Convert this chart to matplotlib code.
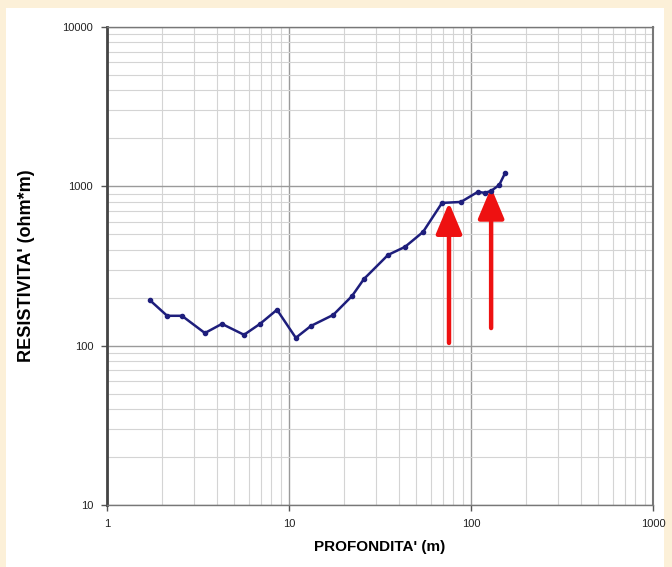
import matplotlib.pyplot as plt
from matplotlib.patches import Rectangle
from matplotlib.ticker import LogLocator, FixedLocator, NullFormatter

# dati del sondaggio (profondita' in m, resistivita' in ohm*m)
profondita = [1.72, 2.14, 2.58, 3.45, 4.28, 5.66, 6.93, 8.59, 10.9, 13.2, 17.5,
              22.2, 25.8, 35.0, 43.4, 54.5, 69.3, 88.1, 109, 119, 129, 143, 154]
resistivita = [193, 154, 154, 120, 137, 117, 137, 168, 112, 133, 156,
               205, 262, 371, 417, 517, 787, 798, 923, 910, 936, 1021, 1213]

# frecce rosse: x, y base, y punta
frecce_x = [75.7, 129]
frecce_y0 = [104, 129]
frecce_y1 = [790, 985]

x_ticks = [1, 10, 100, 1000]
x_labels = ['1', '10', '100', '1000']
y_ticks = [10, 100, 1000, 10000]
y_labels = ['10', '100', '1000', '10000']

plt.rcParams['font.family'] = ['Liberation Sans', 'DejaVu Sans']

fig = plt.figure(figsize=(6.72, 5.67), dpi=100)
fig.patch.set_facecolor('#fcf0d8')
fig.patches.append(Rectangle((6/672, 0), 658/672, 559/567, transform=fig.transFigure,
                             facecolor='white', edgecolor='none', zorder=-10))

ax = fig.add_axes([107/672, 62/567, 546/672, 478/567])
ax.set_xscale('log')
ax.set_yscale('log')
ax.set_xlim(1, 1000)
ax.set_ylim(10, 10000)

ax.xaxis.set_major_locator(FixedLocator(x_ticks))
ax.set_xticklabels(x_labels)
ax.yaxis.set_major_locator(FixedLocator(y_ticks))
ax.set_yticklabels(y_labels)
ax.xaxis.set_minor_locator(LogLocator(base=10, subs=range(2, 10)))
ax.yaxis.set_minor_locator(LogLocator(base=10, subs=range(2, 10)))
ax.xaxis.set_minor_formatter(NullFormatter())
ax.yaxis.set_minor_formatter(NullFormatter())

ax.grid(True, which='major', color='#9a9a9a', linewidth=1.0)
ax.grid(True, which='minor', color='#d4d4d4', linewidth=0.8)
ax.set_axisbelow(True)

ax.tick_params(which='major', length=4, width=1, color='#555555', labelsize=8,
               direction='out', pad=6, labelcolor='#222222')
ax.tick_params(which='minor', length=0)
ax.tick_params(axis='y', left=True, right=False)
ax.tick_params(axis='x', bottom=True, top=False)

for lato, sp in ax.spines.items():
    sp.set_color('#777777')
    sp.set_linewidth(1.0)
ax.spines['left'].set_linewidth(2.0)
ax.spines['left'].set_color('#444444')
ax.spines['right'].set_linewidth(1.5)

ax.plot(profondita, resistivita, color='#1e1e7c', linewidth=1.8, marker='o',
        markersize=3, zorder=3)

for x, y0, y1 in zip(frecce_x, frecce_y0, frecce_y1):
    ax.annotate('', xy=(x, y1), xytext=(x, y0),
                arrowprops=dict(arrowstyle='-|>,head_length=1.9,head_width=0.8',
                                color='#ee1111', linewidth=3.2,
                                shrinkA=0, shrinkB=0),
                zorder=2.5)

ax.set_xlabel("PROFONDITA' (m)", fontsize=11, fontweight='bold', labelpad=8)
ax.set_ylabel("RESISTIVITA' (ohm*m)", fontsize=13, fontweight='bold', labelpad=20)

fig.savefig('out.png', dpi=100, facecolor=fig.get_facecolor())
